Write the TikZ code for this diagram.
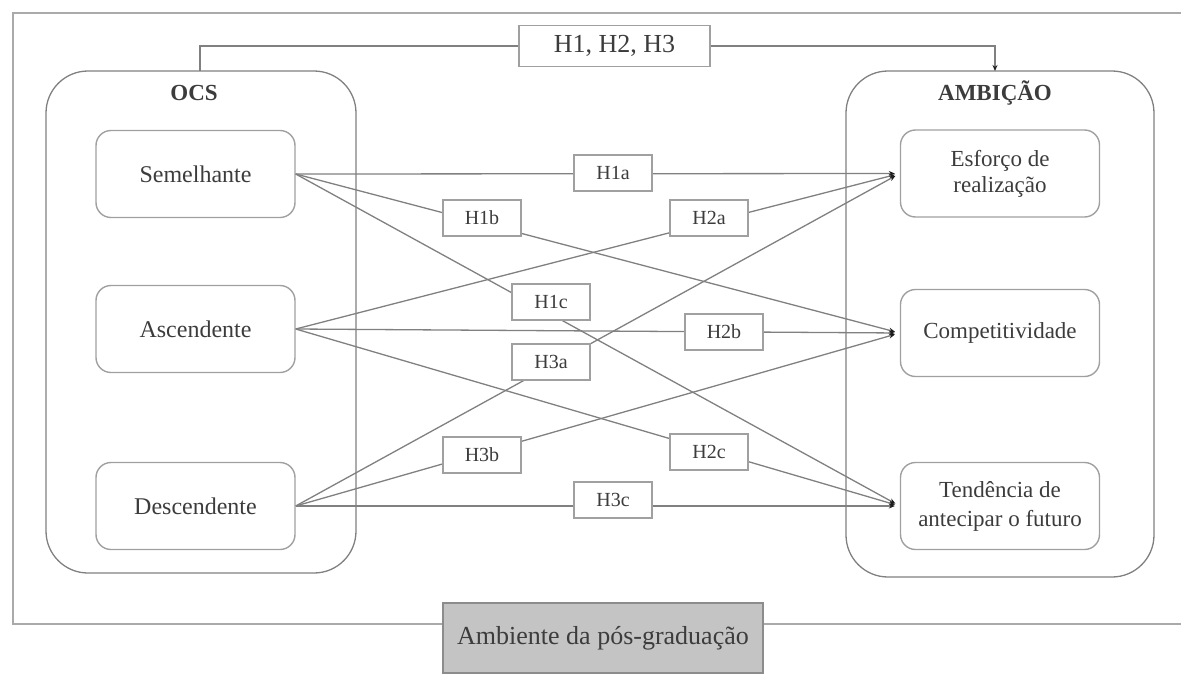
\documentclass[tikz,border=0pt]{standalone}
\usepackage{fontspec}
\setmainfont{Liberation Serif}
\usetikzlibrary{arrows.meta}
\definecolor{lnc}{RGB}{128,128,128}
\definecolor{bxc}{RGB}{160,160,160}
\definecolor{txc}{RGB}{60,60,60}
\definecolor{frc}{RGB}{170,170,170}
\definecolor{gfill}{RGB}{196,196,196}
\definecolor{gdraw}{RGB}{140,140,140}
\definecolor{tipc}{RGB}{30,30,30}
\tikzset{
  mainbox/.style={draw=bxc, line width=1.4pt, rounded corners=15pt, minimum width=199pt, minimum height=87pt, inner sep=0pt, text=txc, align=center, font=\fontsize{23}{26}\selectfont},
  hbox/.style={draw=bxc, fill=white, line width=1.3pt, minimum width=78pt, minimum height=36pt, inner sep=0pt, text=txc, font=\fontsize{20}{22}\selectfont},
  container/.style={draw=lnc, line width=1.3pt, rounded corners=42pt},
  conn/.style={draw=lnc, line width=1.3pt},
  arr/.style={conn, -{Stealth[length=6pt,width=5pt,tipc]}, shorten >=5pt},
}
\begin{document}
\begin{tikzpicture}[x=1pt,y=-1pt]
\useasboundingbox (0,0) rectangle (1181,675);
% outer frame (open on right)
\draw[frc, line width=2pt] (1181,13) -- (13,13) -- (13,624) -- (1181,624);
% containers
\draw[container] (46,71) rectangle (356,573);
\draw[container] (846,71) rectangle (1154,577);
\node[font=\bfseries\fontsize{23}{26}\selectfont, text=txc] (ocsl) at (194,93) {OCS};
\node[font=\bfseries\fontsize{23}{26}\selectfont, text=txc] (ambl) at (995,93) {AMBIÇÃO};
% left boxes
\node[mainbox, font=\fontsize{24}{28}\selectfont] (sem) at (195.5,174) {Semelhante};
\node[mainbox, font=\fontsize{24}{28}\selectfont] (asc) at (195.5,329) {Ascendente};
\node[mainbox, font=\fontsize{24}{28}\selectfont] (des) at (195.5,506) {Descendente};
% right boxes
\node[mainbox] (esf) at (1000,173.5) {Esforço de\\realização};
\node[mainbox] (com) at (1000,333) {Competitividade};
\node[mainbox, font=\fontsize{23}{29}\selectfont] (ten) at (1000,506) {Tendência de\\antecipar o futuro};
% top connector
\node[hbox, minimum width=191pt, minimum height=41pt, font=\fontsize{26}{28}\selectfont] (hyp) at (614.5,46) {H1, H2, H3};
\coordinate (ocstop) at (200,71);
\coordinate (ambtop) at (995,71);
\draw[conn] (hyp.west) -| (ocstop);
\draw[arr, shorten >=0pt] (hyp.east) -| (ambtop);
% hypothesis lines
\draw[arr] (sem.east) -- (esf.west);
\draw[arr] (sem.east) -- (com.west);
\draw[arr] (sem.east) -- (ten.west);
\draw[arr] (asc.east) -- (esf.west);
\draw[arr] (asc.east) -- (com.west);
\draw[arr] (asc.east) -- (ten.west);
\draw[arr] (des.east) -- (esf.west);
\draw[arr] (des.east) -- (com.west);
\draw[arr] (des.east) -- (ten.west);
% labels
\node[hbox] (h1a) at (613,173) {H1a};
\node[hbox] (h1b) at (482,218) {H1b};
\node[hbox] (h1c) at (551,302) {H1c};
\node[hbox] (h2a) at (709,218) {H2a};
\node[hbox] (h2b) at (724,332) {H2b};
\node[hbox] (h2c) at (709,452) {H2c};
\node[hbox] (h3a) at (551,362) {H3a};
\node[hbox] (h3b) at (482,455) {H3b};
\node[hbox] (h3c) at (613,500) {H3c};
% environment box
\node[draw=gdraw, fill=gfill, line width=1.4pt, minimum width=320pt, minimum height=70pt, inner sep=0pt, text=txc, font=\fontsize{26}{28}\selectfont] (amb) at (603,638) {Ambiente da pós-graduação};
\end{tikzpicture}
\end{document}
